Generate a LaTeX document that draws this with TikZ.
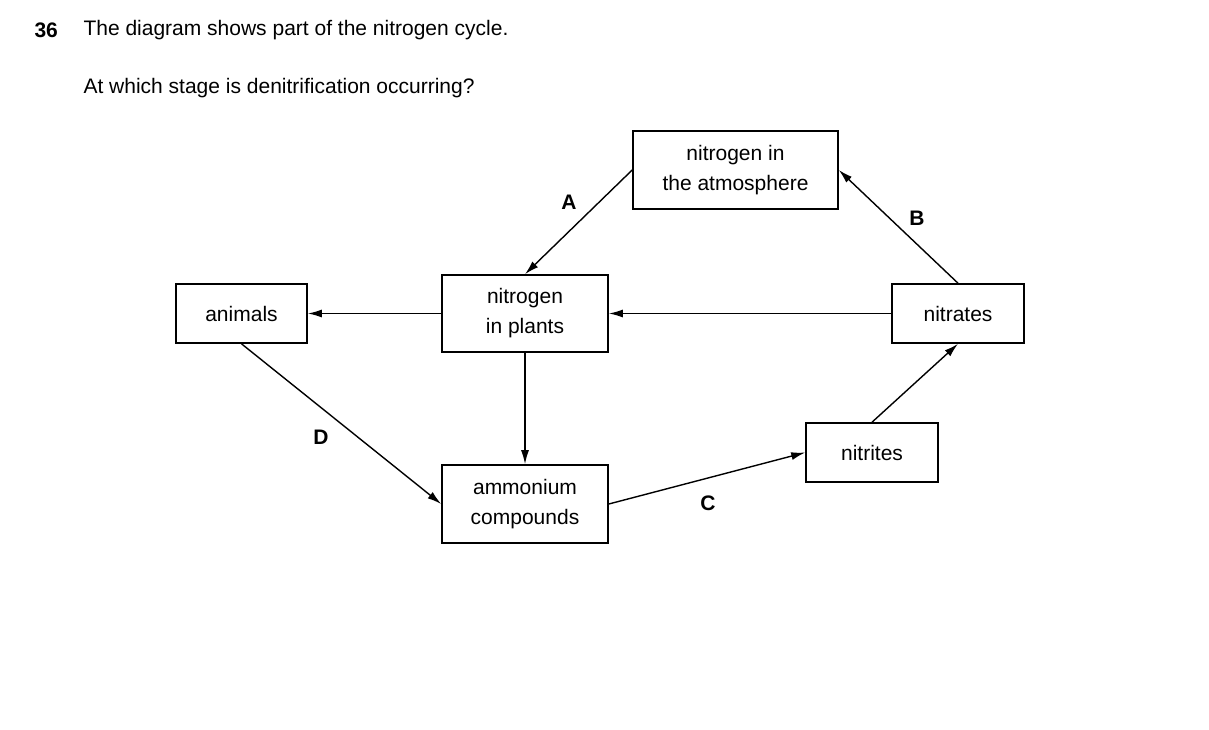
\documentclass[tikz,border=0pt]{standalone}
\usepackage{fontspec}
\setmainfont{Liberation Sans}
\usetikzlibrary{positioning,arrows.meta}
\begin{document}
\begin{tikzpicture}[x=1pt,y=-1pt,
box/.style={draw, line width=1.6pt, align=center, font=\fontsize{21}{30}\selectfont, inner sep=0pt},
flow/.style={draw, line width=1.4pt, -{Latex[length=14pt,width=8pt]}},
stage/.style={font=\fontsize{21}{25}\selectfont\bfseries}]
\useasboundingbox (0,0) rectangle (1209,730);
\node[anchor=west, font=\fontsize{21}{25}\selectfont\bfseries] (num) at (31,30) {36};
\node[anchor=west, font=\fontsize{21}{25}\selectfont] (q1) at (80,30) {The diagram shows part of the nitrogen cycle.};
\node[anchor=west, font=\fontsize{21}{25}\selectfont] (q2) at (80,88) {At which stage is denitrification occurring?};
% boxes
\node[box, minimum width=205pt, minimum height=78pt] (atm) at (735.5,170) {nitrogen in\\the atmosphere};
\node[box, minimum width=131pt, minimum height=59pt] (animals) at (241.5,313.5) {animals};
\node[box, minimum width=166pt, minimum height=77pt] (plants) at (525,313.5) {nitrogen\\in plants};
\node[box, minimum width=132pt, minimum height=59pt] (nitrates) at (958,313.5) {nitrates};
\node[box, minimum width=132pt, minimum height=59pt] (nitrites) at (872,452.5) {nitrites};
\node[box, minimum width=166pt, minimum height=78pt] (ammonium) at (525,504) {ammonium\\compounds};
% arrows
\draw[flow] (atm.west) -- (plants.north);
\draw[flow] (nitrates.north) -- (atm.east);
\draw[flow] (plants.west) -- (animals.east);
\draw[flow] (nitrates.west) -- (plants.east);
\draw[flow] (plants.south) -- (ammonium.north);
\draw[flow] (animals.south) -- (ammonium.west);
\draw[flow] (ammonium.east) -- (nitrites.west);
\draw[flow] (nitrites.north) -- (nitrates.south);
% stage letters
\node[stage] (A) at (569,202) {A};
\node[stage] (B) at (917,218) {B};
\node[stage] (C) at (708,503) {C};
\node[stage] (D) at (321,437) {D};
\end{tikzpicture}
\end{document}
